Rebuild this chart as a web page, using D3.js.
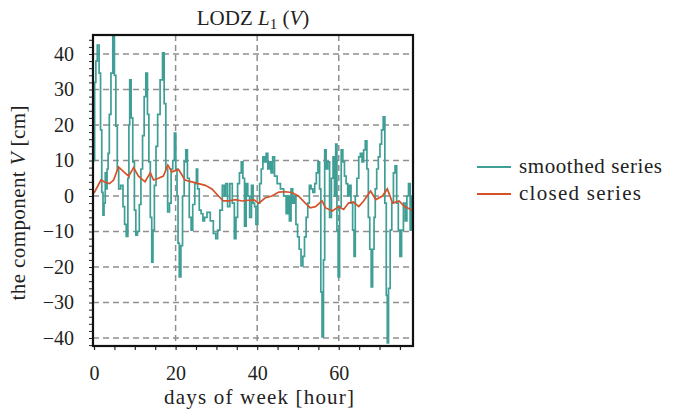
<!DOCTYPE html>
<html>
<head>
<meta charset="utf-8">
<script src="https://cdn.jsdelivr.net/npm/d3@7"></script>
<style>
  body { margin: 0; background: #fff; }
  text { font-family: "Liberation Serif", "DejaVu Serif", serif; fill: #222; }
</style>
</head>
<body>
<svg id="chart" width="678" height="410"></svg>
<script>
// smoothed series (teal) - hour, value
const smoothHours = [0, 0.3, 0.6, 1.0, 1.5, 1.7, 2.1, 2.3, 2.6, 2.9, 3.1, 3.3, 3.6, 3.9, 4.4, 4.8, 5.2, 5.5, 5.9, 6.2, 6.9, 7.3, 7.7, 8.1, 8.5, 8.6, 8.9, 9.3, 9.7, 10.1, 10.4, 10.9, 11.3, 11.7, 12.1, 12.5, 12.9, 13.3, 13.6, 14.0, 14.3, 14.6, 15.0, 15.4, 15.8, 16.6, 17.0, 17.4, 17.8, 18.3, 18.7, 19.1, 19.5, 19.9, 20.2, 20.5, 20.7, 21.1, 21.5, 21.9, 22.3, 22.7, 23.1, 23.6, 24.0, 24.4, 25.0, 25.2, 25.6, 26.0, 26.5, 26.9, 27.3, 28.1, 28.9, 29.6, 30.1, 30.5, 31.2, 31.7, 32.1, 32.5, 33.0, 33.6, 34.2, 34.6, 35.0, 35.4, 35.9, 36.3, 36.7, 37.1, 37.5, 37.9, 38.4, 38.8, 39.2, 39.5, 39.9, 40.4, 40.8, 41.2, 41.6, 42.0, 42.4, 42.8, 43.2, 43.6, 44.0, 44.5, 45.3, 46.1, 46.9, 47.3, 47.7, 48.1, 48.5, 48.9, 49.3, 49.7, 50.1, 50.5, 51.0, 51.4, 51.8, 52.2, 52.6, 53.0, 53.4, 53.9, 54.3, 54.7, 55.1, 55.5, 55.7, 56.1, 56.4, 56.7, 57.1, 57.5, 58.0, 58.4, 58.8, 59.1, 59.4, 59.7, 60.0, 60.4, 60.8, 61.2, 61.6, 62.0, 62.4, 62.8, 63.2, 63.6, 63.9, 64.2, 64.7, 65.1, 65.5, 65.9, 66.3, 66.7, 67.1, 67.4, 67.8, 68.1, 68.5, 68.8, 69.1, 69.5, 69.9, 70.3, 70.7, 71.1, 71.5, 71.8, 72.0, 72.4, 72.8, 73.2, 73.6, 74.0, 74.4, 74.8, 75.2, 75.6, 76.1, 76.5, 76.9, 77.3, 77.7, 78.0];
const smoothValues = [10, 32, 38, 42.5, 34.6, 18.6, 1, -5.4, -2, 6.5, 2, 7.6, 12, 23, 34.6, 45, 34, 19.7, 7.6, 2, 3, -3, -8, -11.4, 5, 20, 32.7, 22, 9.6, -4, -11, -10, -2.4, 7.6, 17, 28, 34.6, 23, 9.6, -6, -18.6, -9.6, 3, 14, 23, 32.7, 40.3, 26, 7.6, -4.5, -2, 7.6, 10, 17.7, 7.6, 0, -13.3, -22.8, -14, 0, 9.6, 13, 5, -6, -9.6, -2.4, 3.5, 7.6, 2, -4, -5, -7, -6, -4.6, -7, -10.5, -12, -9.6, -4, 3, 0, 3.5, -3, 3.5, -2, -12, -6, 3.5, 6.5, 9.6, 5, -8.5, 3.5, 0, -6, 3, -2, -3, -8, -2, 3.5, 7.6, 11, 9.6, 12, 7.6, 9.6, 6.5, 11, 5.6, 3.5, 2, 0, -5, 0, -7, 2, -2, 0, -8, -11.5, -15, -19.7, -17, -11.5, -6, -2, 3, 2, 1, 3.5, 6.5, 9.6, 2, -27, -39.7, -18, 13, 7.6, 9.6, -6, 5, 11, 0, 14.6, -9.6, -22.8, -3, 13, 9.6, 5.6, 3.5, 0, 3, -2, -9.6, -17, 0, 5, 11, 12, 9.6, 13, 15.5, 7.6, -6, -15, -25.6, -15, -6, 2, 7.6, 11, 14.6, 18.6, 22.3, -2, -28, -41.4, -26, -9.6, -2, 6.5, 8.5, -2, -9.6, -17, -9.6, -2, -7, 0, 3.5, -9.6, 0];

// closed series (red) - hour, value
const closedHours = [0, 1.7, 2.5, 3.8, 4.8, 6.0, 7.3, 8.5, 9.7, 10.9, 12.5, 13.8, 14.6, 15.8, 17.0, 18.1, 19.1, 20.7, 22.3, 24.0, 25.6, 27.3, 28.9, 30.5, 31.7, 33.0, 34.6, 36.3, 37.9, 39.2, 40.4, 42.0, 43.6, 45.3, 46.9, 48.5, 50.1, 51.8, 53.0, 54.3, 55.9, 56.7, 58.4, 60.0, 61.2, 62.4, 63.6, 64.9, 66.1, 67.8, 69.1, 70.7, 71.9, 73.2, 74.8, 76.1, 77.7, 78.2];
const closedValues = [0.8, 4.5, 4, 3.5, 4.5, 8.2, 6.8, 5.6, 8, 5.6, 4, 6.5, 4.5, 5, 5.6, 8.7, 6.8, 7.5, 4.5, 4, 3.5, 3, 2, 0, -1.4, -1.4, -1, -1.4, -1.2, -1.1, -2, -0.5, 0, 1.1, 1.2, 1, 0, -2, -3.3, -3, -1.4, -3.3, -4.2, -3, -3.8, -2, -1.7, -3, -1.4, 1.4, -1, 0, 2, -2, -1.4, -3, -3.8, -4];

const xTicks = [0, 20, 40, 60];
const yTicks = [-40, -30, -20, -10, 0, 10, 20, 30, 40];
const seriesNames = ["smoothed series", "closed series"];
const seriesColors = ["#3f9e95", "#d4522a"];

const svg = d3.select("#chart");
const pl = 93, pr = 413, pt = 35, pb = 346;

const x = d3.scaleLinear().domain([-0.25, 78.2]).range([pl, pr]);
const y = d3.scaleLinear().domain([-42.25, 45.35]).range([pb, pt]);

// grid
const grid = svg.append("g").attr("stroke", "#8f8f8f").attr("stroke-width", 1.5).attr("stroke-dasharray", "6,4");
grid.selectAll(".gy").data(yTicks).enter().append("line")
  .attr("x1", pl).attr("x2", pr)
  .attr("y1", d => y(d)).attr("y2", d => y(d));
grid.selectAll(".gx").data(xTicks.filter(d => d > 0)).enter().append("line")
  .attr("y1", pt).attr("y2", pb)
  .attr("x1", d => x(d)).attr("x2", d => x(d));

// clip for lines
svg.append("clipPath").attr("id", "clip").append("rect")
  .attr("x", pl).attr("y", pt).attr("width", pr - pl).attr("height", pb - pt);

const smoothData = smoothHours.map((h, i) => [h, smoothValues[i]]);
const closedData = closedHours.map((h, i) => [h, closedValues[i]]);

svg.append("path")
  .datum(smoothData)
  .attr("clip-path", "url(#clip)")
  .attr("fill", "none")
  .attr("stroke", seriesColors[0])
  .attr("stroke-width", 1.7)
  .attr("d", d3.line().x(d => x(d[0])).y(d => y(d[1])).curve(d3.curveStep));

svg.append("path")
  .datum(closedData)
  .attr("clip-path", "url(#clip)")
  .attr("fill", "none")
  .attr("stroke", seriesColors[1])
  .attr("stroke-width", 1.7)
  .attr("d", d3.line().x(d => x(d[0])).y(d => y(d[1])));

// axes
const xAxis = d3.axisBottom(x).tickValues(d3.range(0, 80, 5)).tickSize(4)
  .tickFormat(d => xTicks.includes(d) ? d : "");
const gx = svg.append("g").attr("transform", `translate(0,${pb})`).call(xAxis);
gx.select(".domain").remove();
gx.selectAll(".tick line").attr("stroke", "#222").attr("stroke-width", 1.2);
gx.selectAll(".tick text").attr("font-size", 20).attr("y", 16).attr("dy", "0.9em")
  .style("font-family", "Liberation Serif");

const yAxis = d3.axisLeft(y).tickValues(d3.range(-42, 46, 2)).tickSize(4)
  .tickFormat(d => yTicks.includes(d) ? (d < 0 ? "\u2212" + Math.abs(d) : d) : "");
const gy = svg.append("g").attr("transform", `translate(${pl},0)`).call(yAxis);
gy.select(".domain").remove();
gy.selectAll(".tick line").attr("stroke", "#222").attr("stroke-width", 1);
gy.selectAll(".tick text").attr("font-size", 20).attr("x", -19)
  .style("font-family", "Liberation Serif");

// frame
svg.append("rect")
  .attr("x", pl).attr("y", pt).attr("width", pr - pl).attr("height", pb - pt)
  .attr("fill", "none").attr("stroke", "#111").attr("stroke-width", 2.2);

// title
const title = svg.append("text").attr("x", 253).attr("y", 25)
  .attr("text-anchor", "middle").attr("font-size", 21);
title.append("tspan").text("LODZ ");
title.append("tspan").attr("font-style", "italic").text("L");
title.append("tspan").attr("font-size", 15).attr("dy", 4).text("1");
title.append("tspan").attr("dy", -4).text(" (");
title.append("tspan").attr("font-style", "italic").text("V");
title.append("tspan").text(")");

// axis labels
svg.append("text").attr("x", 259).attr("y", 404)
  .attr("text-anchor", "middle").attr("font-size", 21)
  .attr("textLength", 190).attr("lengthAdjust", "spacing")
  .text("days of week [hour]");

const yl = svg.append("text").attr("transform", "translate(25,203) rotate(-90)")
  .attr("text-anchor", "middle").attr("font-size", 21)
  .attr("textLength", 195).attr("lengthAdjust", "spacing");
yl.append("tspan").text("the component ");
yl.append("tspan").attr("font-style", "italic").text("V");
yl.append("tspan").text(" [cm]");

// legend
const legendWidths = [143, 122];
const legend = svg.append("g");
seriesNames.forEach((name, i) => {
  const ly = 167 + i * 27;
  legend.append("line").attr("x1", 477).attr("x2", 511).attr("y1", ly).attr("y2", ly)
    .attr("stroke", seriesColors[i]).attr("stroke-width", 1.8);
  legend.append("text").attr("x", 519).attr("y", ly + 6).attr("font-size", 21)
    .attr("textLength", legendWidths[i]).attr("lengthAdjust", "spacing").text(name);
});
</script>
</body>
</html>
